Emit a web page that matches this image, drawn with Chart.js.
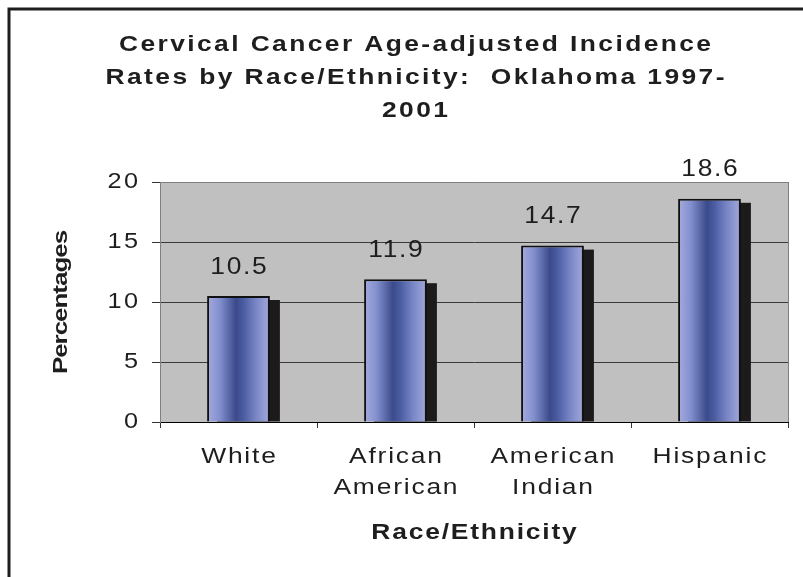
<!DOCTYPE html>
<html>
<head>
<meta charset="utf-8">
<script src="https://cdn.jsdelivr.net/npm/chart.js@4.4.1/dist/chart.umd.min.js"></script>
<style>
  html, body { margin: 0; padding: 0; background: #ffffff; }
  #wrap { width: 803px; height: 577px; }
</style>
</head>
<body>
<div id="wrap"><canvas id="chart" width="803" height="577"></canvas></div>
<script>
// Age-adjusted incidence rates, Oklahoma 1997-2001
const categories = [['White'], ['African', 'American'], ['American', 'Indian'], ['Hispanic']];
const rates = [10.5, 11.9, 14.7, 18.6];
const yTickValues = [0, 5, 10, 15, 20];
const titleLines = [
  'Cervical Cancer Age-adjusted Incidence',
  'Rates by Race/Ethnicity:  Oklahoma 1997-',
  '2001'
];
const xAxisTitle = 'Race/Ethnicity';
const yAxisTitle = 'Percentages';

const FONT = "'Liberation Sans', Arial, Helvetica, sans-serif";
const TEXT = '#1e1e1e';
const BAR_FRACTION = 0.4;
const nativeFill = CanvasRenderingContext2D.prototype.fillText;

// fillText replacement: widened glyphs plus letter spacing, anchored like the original call
function wideFill(sx, spacing) {
  return function (text, x, y, maxWidth) {
    const align = this.textAlign;
    let shift = 0;
    if (align === 'center') shift = spacing * sx / 2;
    else if (align === 'right' || align === 'end') shift = spacing * sx;
    this.save();
    this.translate(x + shift, y);
    this.scale(sx, 1);
    if (maxWidth !== undefined && maxWidth !== null) nativeFill.call(this, text, 0, 0, maxWidth / sx);
    else nativeFill.call(this, text, 0, 0);
    this.restore();
  };
}

// wraps a drawing method so its text uses the wide lettering
function styled(target, method, spacing, sx) {
  if (!target || target['_styled_' + method]) return;
  const orig = target[method];
  target[method] = function (...args) {
    const ctx = this.ctx;
    ctx.save();
    ctx.letterSpacing = spacing + 'px';
    ctx.fillText = wideFill(sx, spacing);
    try {
      return orig.apply(this, args);
    } finally {
      delete ctx.fillText;
      ctx.restore();
    }
  };
  target['_styled_' + method] = true;
}

function barGradient(c) {
  const chart = c.chart;
  const xs = chart.scales && chart.scales.x;
  if (!xs || !chart.chartArea) return '#6f7cc0';
  const cx = xs.getPixelForValue(c.dataIndex);
  const half = (xs.width / categories.length) * BAR_FRACTION / 2;
  const g = chart.ctx.createLinearGradient(cx - half, 0, cx + half, 0);
  g.addColorStop(0.00, '#a4abdd');
  g.addColorStop(0.20, '#8390cf');
  g.addColorStop(0.46, '#3b4a8b');
  g.addColorStop(0.58, '#4b5da2');
  g.addColorStop(0.78, '#7986c7');
  g.addColorStop(1.00, '#a3aadb');
  return g;
}

const decor = {
  id: 'decor',
  beforeDraw(chart) {
    const ctx = chart.ctx;
    const a = chart.chartArea;
    ctx.save();
    ctx.fillStyle = '#ffffff';
    ctx.fillRect(0, 0, chart.width, chart.height);
    // outer frame
    ctx.strokeStyle = '#1e1e1e';
    ctx.lineWidth = 3;
    ctx.strokeRect(9, 9, chart.width + 40, chart.height + 40);
    // plot area fill
    ctx.fillStyle = '#c0c0c0';
    ctx.fillRect(a.left, a.top, a.right - a.left, a.bottom - a.top);
    ctx.restore();

    styled(chart.titleBlock, 'draw', 2, 1.2);
    styled(chart.scales.x, 'drawLabels', 1.5, 1.2);
    styled(chart.scales.x, 'drawTitle', 1.5, 1.2);
    styled(chart.scales.y, 'drawLabels', 2, 1.15);
    styled(chart.scales.y, 'drawTitle', -0.8, 1.3);
  },
  beforeDatasetsDraw(chart) {
    const ctx = chart.ctx;
    const a = chart.chartArea;
    ctx.save();
    // right edge of the plot area
    ctx.strokeStyle = '#808080';
    ctx.lineWidth = 1;
    ctx.beginPath();
    ctx.moveTo(Math.round(a.right) + 0.5, a.top);
    ctx.lineTo(Math.round(a.right) + 0.5, a.bottom);
    ctx.stroke();
    // drop shadows behind the bars
    ctx.fillStyle = '#1c1a1a';
    chart.getDatasetMeta(0).data.forEach(el => {
      const left = el.x - el.width / 2 + 10;
      ctx.fillRect(left, el.y + 4, el.width, el.base - el.y - 4);
    });
    ctx.restore();
  },
  afterDatasetsDraw(chart) {
    const ctx = chart.ctx;
    ctx.save();
    ctx.font = '24px ' + FONT;
    ctx.fillStyle = TEXT;
    ctx.textAlign = 'center';
    ctx.textBaseline = 'middle';
    ctx.letterSpacing = '1.5px';
    const fill = wideFill(1.1, 1.5);
    chart.getDatasetMeta(0).data.forEach((el, i) => {
      fill.call(ctx, rates[i].toFixed(1), el.x, el.y - 29);
    });
    ctx.restore();
  }
};

new Chart(document.getElementById('chart'), {
  type: 'bar',
  data: {
    labels: categories,
    datasets: [{
      data: rates,
      backgroundColor: barGradient,
      borderColor: '#111111',
      borderWidth: 2,
      categoryPercentage: 1,
      barPercentage: BAR_FRACTION
    }]
  },
  options: {
    responsive: false,
    animation: false,
    layout: { padding: { left: 42, right: 15, top: 0, bottom: 0 } },
    plugins: {
      legend: { display: false },
      tooltip: { enabled: false },
      title: {
        display: true,
        text: titleLines,
        color: TEXT,
        font: { family: FONT, size: 22, weight: 'bold', lineHeight: 1.5 },
        padding: { top: 28.5, bottom: 54.5 }
      }
    },
    scales: {
      x: {
        afterFit(scale) { scale.height = 155; },
        grid: {
          drawOnChartArea: false,
          drawTicks: true,
          tickLength: 6,
          color: '#333333',
          offset: true
        },
        border: { display: true, color: '#000000', width: 1 },
        ticks: {
          color: TEXT,
          padding: 13.5,
          maxRotation: 0,
          autoSkip: false,
          font: { family: FONT, size: 22, lineHeight: 31 / 22 }
        },
        title: {
          display: true,
          text: xAxisTitle,
          color: TEXT,
          font: { family: FONT, size: 22, weight: 'bold', lineHeight: 1.2 },
          padding: { top: 0, bottom: 30.8 }
        }
      },
      y: {
        min: 0,
        max: 20,
        afterFit(scale) { scale.width = 118; },
        afterBuildTicks(scale) { scale.ticks = yTickValues.map(v => ({ value: v })); },
        grid: {
          drawTicks: true,
          tickLength: 8,
          lineWidth: 1,
          color: c => (c.tick && c.tick.value === 20) ? '#808080' : (c.tick && c.tick.value === 0 ? '#000000' : '#3a3a3a'),
          tickColor: '#333333'
        },
        border: { display: true, color: '#808080', width: 1 },
        ticks: {
          color: TEXT,
          padding: 14,
          font: { family: FONT, size: 22 }
        },
        title: {
          display: true,
          text: yAxisTitle,
          color: TEXT,
          font: { family: FONT, size: 20, weight: 'bold', lineHeight: 1.2 },
          padding: { top: 7, bottom: 0 }
        }
      }
    }
  },
  plugins: [decor]
});
</script>
</body>
</html>
